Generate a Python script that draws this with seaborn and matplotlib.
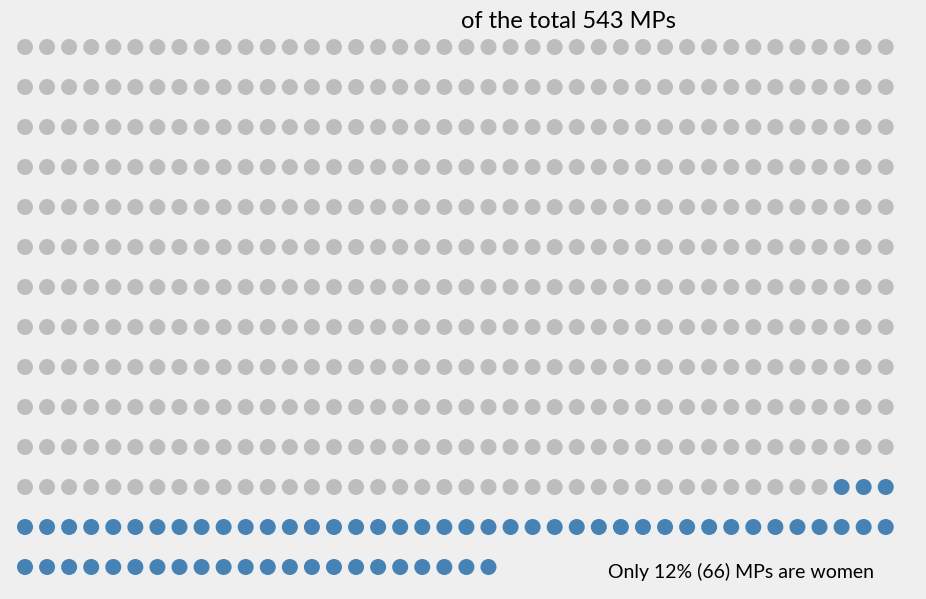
import matplotlib.pyplot as plt
import seaborn as sns
import numpy as np
import pandas as pd

sns.set_style("white")
plt.rcParams["font.family"] = ["Lato", "DejaVu Sans"]

# values
total_mps = 543
women_mps = 66
women_share = 12
dots_drawn = 542      # the dots actually visible in the grid
blue_drawn = 65       # visible blue dots (last ones in the grid)
n_cols = 40

title_text = f"of the total {total_mps} MPs"
note_text = f"Only {women_share}% ({women_mps}) MPs are women"

bg = "#efefef"
grey = "#bdbdbd"
blue = "#4682b4"

idx = np.arange(dots_drawn)
df = pd.DataFrame({
    "col": idx % n_cols,
    "row": idx // n_cols,
    "group": np.where(idx >= dots_drawn - blue_drawn, "women", "men"),
})
# pixel layout
df["x"] = 25 + 22.07 * df["col"]
df["y"] = 47 + 40 * df["row"]

fig = plt.figure(figsize=(9.26, 5.99), dpi=100, facecolor=bg)
ax = fig.add_axes([0, 0, 1, 1])
ax.set_facecolor(bg)

sns.scatterplot(
    data=df, x="x", y="y", hue="group",
    palette={"men": grey, "women": blue},
    s=(16 * 72 / 100) ** 2, linewidth=0, legend=False, ax=ax,
)

ax.set_xlim(0, 926)
ax.set_ylim(599, 0)
ax.set_axis_off()

ax.text(568.5, 27.5, title_text, ha="center", va="baseline", fontsize=17, color="#000000")
ax.text(740.5, 578, note_text, ha="center", va="baseline", fontsize=14, color="#000000")

fig.savefig("out.png", dpi=100, facecolor=bg)
